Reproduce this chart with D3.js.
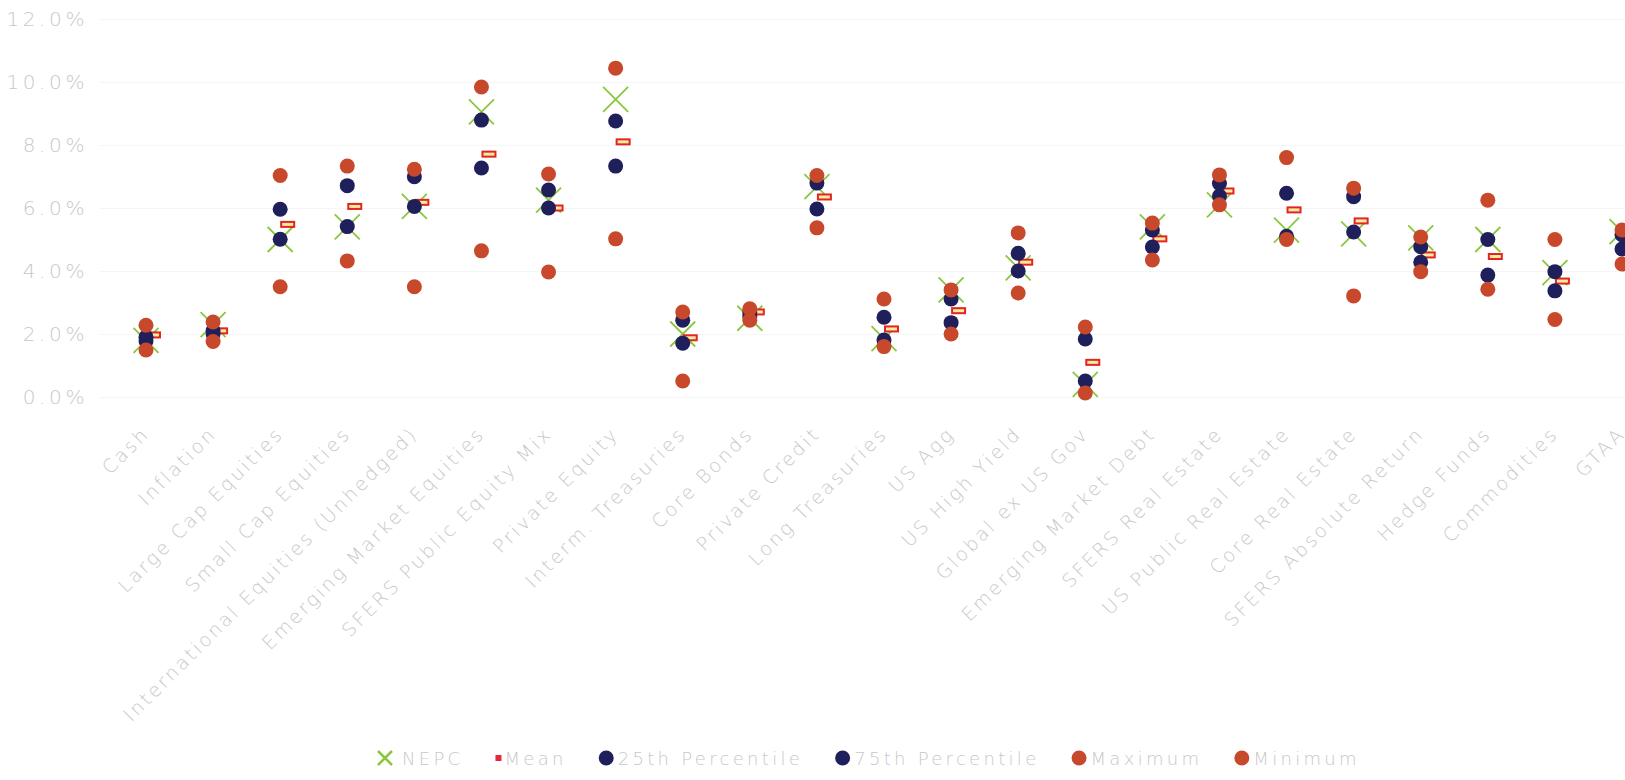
<!DOCTYPE html>
<html>
	<head>
		<script src="https://d3js.org/d3.v7.min.js" charset="utf-8"></script>
		<style type="text/css">
			body {
				margin: 0;
				background-color: white;
				font-family: "DejaVu Sans", Verdana, sans-serif;
			}
			.lbl {
				fill: #c8c8c8;
				font-weight: 200;
			}
		</style>
	</head>
	<body>
		<script>
		// asset classes, left to right (last one is cut off at the right edge)
		var categories = ["Cash", "Inflation", "Large Cap Equities", "Small Cap Equities",
			"International Equities (Unhedged)", "Emerging Market Equities", "SFERS Public Equity Mix",
			"Private Equity", "Interm. Treasuries", "Core Bonds", "Private Credit", "Long Treasuries",
			"US Agg", "US High Yield", "Global ex US Gov", "Emerging Market Debt", "SFERS Real Estate",
			"US Public Real Estate", "Core Real Estate", "SFERS Absolute Return", "Hedge Funds",
			"Commodities", "GTAA"];

		// expected returns, in %
		var nepc    = [1.80, 2.30, 5.00, 5.40, 6.05, 9.05, 6.25, 9.45, 2.00, 2.50, 6.68, 1.85, 3.40, 4.10, 0.40, 5.40, 6.10, 5.30, 5.18, 5.05, 5.00, 3.95, 5.25];
		var mean    = [1.97, 2.10, 5.48, 6.05, 6.18, 7.71, 6.00, 8.10, 1.88, 2.70, 6.35, 2.16, 2.74, 4.28, 1.10, 5.02, 6.54, 5.94, 5.59, 4.51, 4.46, 3.68, 4.90];
		var pct25   = [1.78, 2.00, 5.01, 5.41, 6.05, 7.27, 6.00, 7.33, 1.71, 2.55, 5.97, 1.81, 2.36, 4.00, 0.51, 4.76, 6.38, 5.10, 5.24, 4.28, 3.87, 3.37, 4.70];
		var pct75   = [1.90, 2.10, 5.96, 6.71, 6.99, 8.79, 6.57, 8.76, 2.44, 2.68, 6.79, 2.53, 3.11, 4.56, 1.84, 5.30, 6.78, 6.47, 6.36, 4.77, 5.00, 3.98, 5.15];
		var maximum = [2.28, 2.38, 7.03, 7.33, 7.23, 9.84, 7.08, 10.44, 2.70, 2.80, 7.03, 3.11, 3.40, 5.21, 2.22, 5.52, 7.05, 7.60, 6.63, 5.08, 6.25, 5.00, 5.30];
		var minimum = [1.49, 1.76, 3.50, 4.32, 3.50, 4.64, 3.97, 5.02, 0.51, 2.44, 5.37, 1.60, 2.00, 3.30, 0.13, 4.35, 6.10, 5.00, 3.21, 3.98, 3.42, 2.46, 4.22];

		var yTicks = [0, 2, 4, 6, 8, 10, 12];
		var legendNames = ["NEPC", "Mean", "25th Percentile", "75th Percentile", "Maximum", "Minimum"];

		var green = "#8cc63f";
		var navy = "#1f1f5c";
		var red = "#c8482b";

		var w = 1625;
		var h = 780;

		var canvas = d3.select("body")
					.append("svg")
					.attr("width", w)
					.attr("height", h);

		var x = d3.scalePoint()
					.domain(categories)
					.range([146, 1622]);

		var y = d3.scaleLinear()
					.domain([0, 12])
					.range([397, 19]);

		// faint gridlines
		canvas.append("g")
			.attr("transform", "translate(100,0)")
			.call(d3.axisLeft(y).tickValues(yTicks).tickSize(-(w - 100)).tickFormat(""))
			.call(function(g) { g.select(".domain").remove(); })
			.selectAll("line")
				.attr("stroke", "#f6f6f6");

		// y labels
		canvas.append("g")
			.attr("transform", "translate(89,0)")
			.call(d3.axisLeft(y).tickValues(yTicks).tickSize(0).tickPadding(1)
				.tickFormat(function(d) { return d3.format(".1f")(d) + "%"; }))
			.call(function(g) { g.select(".domain").remove(); })
			.selectAll("text")
				.attr("class", "lbl")
				.attr("font-family", "DejaVu Sans")
				.attr("font-size", 20)
				.style("letter-spacing", "3.6px");

		// x labels, rotated
		canvas.append("g")
			.attr("transform", "translate(0," + y(0) + ")")
			.call(d3.axisBottom(x).tickSize(0))
			.call(function(g) { g.select(".domain").remove(); })
			.selectAll("text")
				.attr("class", "lbl")
				.attr("font-family", "DejaVu Sans")
				.attr("font-size", 19)
				.style("letter-spacing", "2.6px")
				.attr("x", 0)
				.attr("y", 0)
				.attr("dy", 0)
				.attr("text-anchor", "end")
				.attr("transform", "translate(4,38) rotate(-45)");

		var rows = categories.map(function(c, i) {
			return {cat: c, nepc: nepc[i], mean: mean[i], p25: pct25[i], p75: pct75[i], max: maximum[i], min: minimum[i]};
		});

		var xPath = "M-12.5,-12.5L12.5,12.5M-12.5,12.5L12.5,-12.5";

		// NEPC crosses (drawn first, under everything)
		canvas.append("g").selectAll("path")
			.data(rows)
			.enter()
				.append("path")
				.attr("d", xPath)
				.attr("transform", function(d) { return "translate(" + x(d.cat) + "," + y(d.nepc) + ")"; })
				.attr("stroke", green)
				.attr("stroke-width", 1.8)
				.attr("fill", "none");

		// mean markers
		canvas.append("g").selectAll("rect")
			.data(rows)
			.enter()
				.append("rect")
				.attr("x", function(d) { return x(d.cat) + 1; })
				.attr("y", function(d) { return y(d.mean) - 2.5; })
				.attr("width", 13)
				.attr("height", 5)
				.attr("fill", "#f6eba2")
				.attr("stroke", "#e3241f")
				.attr("stroke-width", 2);

		function dots(key, color) {
			canvas.append("g").selectAll("circle")
				.data(rows)
				.enter()
					.append("circle")
					.attr("cx", function(d) { return x(d.cat); })
					.attr("cy", function(d) { return y(d[key]); })
					.attr("r", 7.5)
					.attr("fill", color);
		}

		dots("p25", navy);
		dots("p75", navy);
		dots("max", red);
		dots("min", red);

		// legend
		var legend = canvas.append("g").attr("transform", "translate(0,758)");
		var lx = 378;
		legendNames.forEach(function(name, i) {
			var mw;
			if (i == 0) {
				legend.append("path")
					.attr("d", "M0,-7L14,7M0,7L14,-7")
					.attr("transform", "translate(" + lx + ",0)")
					.attr("stroke", green)
					.attr("stroke-width", 2.5)
					.attr("fill", "none");
				mw = 14 + 10;
			} else if (i == 1) {
				legend.append("rect")
					.attr("x", lx)
					.attr("y", -3)
					.attr("width", 6)
					.attr("height", 6)
					.attr("fill", "#e5283a");
				mw = 6 + 3;
			} else {
				legend.append("circle")
					.attr("cx", lx + 7.5)
					.attr("cy", 0)
					.attr("r", 7.5)
					.attr("fill", i < 4 ? navy : red);
				mw = 15 + 4;
			}
			var t = legend.append("text")
				.attr("class", "lbl")
				.attr("x", lx + mw)
				.attr("y", 6.5)
				.attr("font-size", 18)
				.style("letter-spacing", "3.3px")
				.text(name);
			lx = lx + mw + t.node().getBBox().width + 32;
		});
		</script>
	</body>
</html>
